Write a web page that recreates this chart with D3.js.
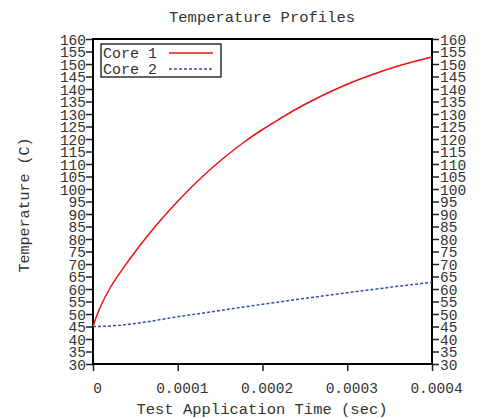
<!DOCTYPE html>
<html lang="en">
  <head>
    <meta charset="utf-8" />
    <title>Temperature Profiles</title>
    <script src="https://d3js.org/d3.v7.min.js"></script>
    <style>
      body { margin: 0; background: #fff; }
      text { font-family: "Liberation Mono", monospace; font-size: 15px; fill: #333; }
    </style>
  </head>
  <body>
    <div id="chart"></div>
  </body>
  <script>
    // data
    var times = [0, 0.000005, 0.00001, 0.00002, 0.00003, 0.00004, 0.00005, 0.00006, 0.00007, 0.00008,
                 0.00009, 0.0001, 0.00012, 0.00014, 0.00016, 0.00018, 0.0002, 0.00022, 0.00024,
                 0.00026, 0.00028, 0.0003, 0.00032, 0.00034, 0.00036, 0.00038, 0.0004];
    var core1 = [45, 49.8, 53.8, 60.3, 65.6, 70.4, 75.0, 79.4, 83.6, 87.6,
                 91.4, 95.1, 102.0, 108.3, 114.0, 119.2, 123.8, 128.0, 132.0,
                 135.6, 138.9, 141.9, 144.6, 147.0, 149.2, 151.1, 152.8];
    var core2 = [45, 45, 45.05, 45.2, 45.45, 45.8, 46.2, 46.7, 47.2, 47.8,
                 48.35, 48.9, 49.9, 50.9, 51.9, 52.9, 53.9, 54.8, 55.8,
                 56.7, 57.6, 58.5, 59.4, 60.2, 61.1, 61.9, 62.7];
    var xTicks = [0, 0.0001, 0.0002, 0.0003, 0.0004];
    var xTickLabels = ["0", "0.0001", "0.0002", "0.0003", "0.0004"];
    var yTicks = d3.range(30, 161, 5);
    var seriesNames = ["Core 1", "Core 2"];

    var width = 491, height = 419;
    var margin = {top: 39, right: 59, bottom: 55, left: 93};

    var svg = d3.select("#chart").append("svg")
                .attr("width", width)
                .attr("height", height);

    var x = d3.scaleLinear().domain([0, 0.0004]).range([margin.left, width - margin.right]);
    var y = d3.scaleLinear().domain([30, 160]).range([height - margin.bottom, margin.top]);

    // title
    svg.append("text")
       .attr("x", 262).attr("y", 22)
       .attr("text-anchor", "middle")
       .style("font-size", "15.5px")
       .text("Temperature Profiles");

    // y ticks, left and right (outward)
    var yl = svg.append("g").attr("transform", "translate(" + x(0) + ",0)")
                .call(d3.axisLeft(y).tickValues(yTicks).tickSize(7).tickPadding(0));
    var yr = svg.append("g").attr("transform", "translate(" + x(0.0004) + ",0)")
                .call(d3.axisRight(y).tickValues(yTicks).tickSize(7).tickPadding(1));
    var xb = svg.append("g").attr("transform", "translate(0," + y(30) + ")")
                .call(d3.axisBottom(x).tickValues(xTicks)
                        .tickFormat(function(d, i) { return xTickLabels[i]; })
                        .tickSize(7).tickPadding(12));

    [yl, yr, xb].forEach(function(g) {
      g.select(".domain").remove();
      g.selectAll(".tick line").attr("stroke", "#222").attr("stroke-width", 1.5);
      g.selectAll(".tick text").attr("fill", "#333")
       .style("font-size", "14.5px").style("font-family", "Liberation Mono, monospace");
    });
    yl.selectAll(".tick text").attr("dy", "0.35em");
    yr.selectAll(".tick text").attr("dy", "0.35em");
    xb.selectAll(".tick text").attr("dx", "4");

    // frame
    svg.append("rect")
       .attr("x", x(0)).attr("y", y(160))
       .attr("width", x(0.0004) - x(0)).attr("height", y(30) - y(160))
       .attr("fill", "none").attr("stroke", "#000").attr("stroke-width", 2);

    // axis titles
    svg.append("text")
       .attr("x", 262).attr("y", 414)
       .attr("text-anchor", "middle")
       .style("font-size", "15.5px")
       .text("Test Application Time (sec)");
    svg.append("text")
       .attr("transform", "translate(29,205) rotate(-90)")
       .attr("text-anchor", "middle")
       .text("Temperature (C)");

    var line = d3.line()
                 .x(function(d) { return x(d[0]); })
                 .y(function(d) { return y(d[1]); })
                 .curve(d3.curveMonotoneX);

    var styles = [
      {color: "#ee1111", dash: null, width: 1.5},
      {color: "#2f4fa8", dash: "3,2", width: 1.5}
    ];
    [core1, core2].forEach(function(vals, i) {
      svg.append("path")
         .datum(times.map(function(t, j) { return [t, vals[j]]; }))
         .attr("d", line)
         .attr("fill", "none")
         .attr("stroke", styles[i].color)
         .attr("stroke-width", styles[i].width)
         .attr("stroke-dasharray", styles[i].dash);
    });

    // legend
    var lg = svg.append("g");
    lg.append("rect")
      .attr("x", 101).attr("y", 44).attr("width", 120).attr("height", 33)
      .attr("fill", "#fff").attr("stroke", "#000").attr("stroke-width", 1.2);
    seriesNames.forEach(function(name, i) {
      var yy = 53 + i * 16;
      lg.append("text").attr("x", 103).attr("y", yy).attr("dy", "0.35em").text(name);
      lg.append("line")
        .attr("x1", 169).attr("x2", 213).attr("y1", yy).attr("y2", yy)
        .attr("stroke", styles[i].color).attr("stroke-width", styles[i].width)
        .attr("stroke-dasharray", styles[i].dash);
    });
  </script>
</html>
